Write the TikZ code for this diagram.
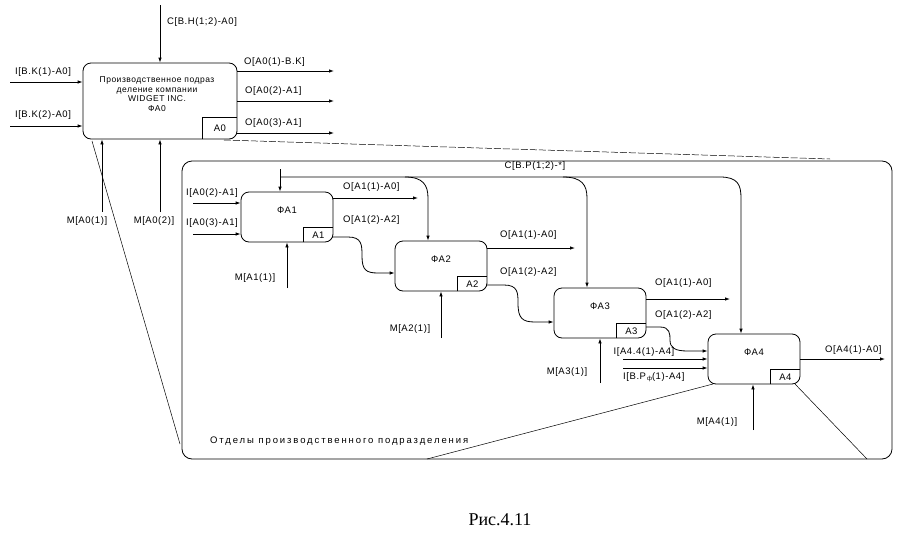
\documentclass[tikz,border=0pt]{standalone}
\usepackage{fontspec}
\setmainfont{Liberation Serif}
\newfontfamily\labfont[LetterSpace=6]{Liberation Sans}
\newfontfamily\widefont[LetterSpace=20]{Liberation Sans}
\usetikzlibrary{arrows.meta,calc}
\begin{document}
\begin{tikzpicture}[x=1pt,y=-1pt,
  lab/.style={font=\labfont\fontsize{9.5}{10}\selectfont, inner sep=0pt},
  fbox/.style={draw, rounded corners=8pt, line width=0.8pt, minimum width=92pt, minimum height=50pt, inner sep=0pt},
  arr/.style={line width=0.8pt, -{Latex[length=5pt,width=3.5pt]}},
  ln/.style={line width=0.8pt},
  thinline/.style={line width=0.5pt}]
\fill[white] (0,0) rectangle (897,541);
\useasboundingbox (0,0) rectangle (897,541);

% ---------- frame ----------
\node[draw, rounded corners=10pt, line width=0.8pt, minimum width=710pt, minimum height=298pt, inner sep=0pt] (F) at (537,310) {};
\node[lab, font=\widefont\fontsize{9.5}{10}\selectfont, anchor=west] (Ft) at (210,441) {Отделы производственного подразделения};

% ---------- A0 ----------
\node[fbox, minimum width=154pt, minimum height=76pt] (A0) at (160,101) {};
\node[lab, font=\labfont\fontsize{8.5}{9.5}\selectfont, align=center] (A0t) at (157,94) {Производственное подраз\\деление компании\\WIDGET INC.\\ФА0};
\draw[ln] ($(A0.south east)+(-35,0)$) |- ($(A0.south east)+(0,-22)$);
\node[lab] (A0n) at ($(A0.south east)+(-17.5,-11)$) {A0};

\coordinate (i01) at (10,82);
\coordinate (i02) at (10,126);
\draw[arr] (i01) -- (i01 -| A0.west);
\draw[arr] (i02) -- (i02 -| A0.west);
\node[lab] (li01) at (43,72) {I[B.K(1)-A0]};
\node[lab] (li02) at (43,115) {I[B.K(2)-A0]};

\coordinate (c0) at (160,5);
\draw[arr] (c0) -- (A0.north);
\node[lab, anchor=west] (lc0) at (167,22) {C[B.H(1;2)-A0]};

\coordinate (o01) at (334,71);
\coordinate (o02) at (334,101);
\coordinate (o03) at (334,133);
\draw[arr] (o01 -| A0.east) -- (o01);
\draw[arr] (o02 -| A0.east) -- (o02);
\draw[arr] (o03 -| A0.east) -- (o03);
\node[lab, anchor=west] (lo01) at (244,62) {O[A0(1)-B.K]};
\node[lab, anchor=west] (lo02) at (245,91) {O[A0(2)-A1]};
\node[lab, anchor=west] (lo03) at (245,123) {O[A0(3)-A1]};

\coordinate (m01) at (102,212);
\coordinate (m02) at (160,212);
\draw[arr] (m01) -- (m01 |- A0.south);
\draw[arr] (m02) -- (m02 |- A0.south);
\node[lab] (lm01) at (87,221) {M[A0(1)]};
\node[lab] (lm02) at (154,221) {M[A0(2)]};

% decomposition lines
\coordinate (d1a) at (92,141);
\coordinate (d1b) at (180,444);
\draw[thinline] (d1a) -- (d1b);
\coordinate (d2a) at (224,140);
\coordinate (d2b) at (830,159);
\draw[thinline, dash pattern=on 7pt off 2pt] (d2a) -- (d2b);

% ---------- A1..A4 ----------
\node[fbox] (A1) at (287,217) {};
\node[fbox] (A2) at (441,266) {};
\node[fbox] (A3) at (600,313) {};
\node[fbox] (A4) at (754,359) {};
\foreach \b in {1,2,3,4}{
  \draw[ln] ($(A\b.south east)+(-30,0)$) |- ($(A\b.south east)+(0,-15)$);
  \node[lab] (A\b n) at ($(A\b.south east)+(-15,-7.5)$) {A\b};
  \node[lab] (A\b t) at ($(A\b.north)+(0,19)$) {ФА\b};
}

% A1
\coordinate (i11) at (193,203);
\coordinate (i12) at (193,234);
\draw[arr] (i11) -- (i11 -| A1.west);
\draw[arr] (i12) -- (i12 -| A1.west);
\node[lab] (li11) at (212,193) {I[A0(2)-A1]};
\node[lab] (li12) at (212,223) {I[A0(3)-A1]};
\coordinate (o11) at (418,198);
\draw[arr] (o11 -| A1.east) -- (o11);
\node[lab, anchor=west] (lo11) at (343,187) {O[A1(1)-A0]};
\node[lab, anchor=west] (lo12) at (343,220) {O[A1(2)-A2]};
\coordinate (q1) at (332,237);
\coordinate (q1e) at (396,273);
\draw[arr] (q1) -- (348,237) .. controls (362,237) and (362,245) .. (362,256)
  .. controls (362,270) and (366,273) .. (378,273) -- (q1e -| A2.west);
\coordinate (m11) at (287,288);
\draw[arr] (m11) -- (m11 |- A1.south);
\node[lab] (lm11) at (255,278) {M[A1(1)]};

% control C[B.P(1;2)-*]
\coordinate (cs) at (280,169);
\coordinate (ch) at (280,177);
\draw[arr] (cs) -- (cs |- A1.north);
\coordinate (c2) at (428,198);
\coordinate (c3) at (587,198);
\coordinate (c4) at (741,198);
\draw[arr] (ch) -- (720,177) .. controls (738,177) and (741,185) .. (c4) -- (c4 |- A4.north);
\draw[arr] (405,177) .. controls (423,177) and (428,185) .. (c2) -- (c2 |- A2.north);
\draw[arr] (563,177) .. controls (582,177) and (587,185) .. (c3) -- (c3 |- A3.north);
\node[lab] (lc) at (535,166) {C[B.P(1;2)-*]};

% A2
\coordinate (o21) at (575,248);
\draw[arr] (o21 -| A2.east) -- (o21);
\node[lab, anchor=west] (lo21) at (500,235) {O[A1(1)-A0]};
\node[lab, anchor=west] (lo22) at (500,272) {O[A1(2)-A2]};
\coordinate (q2) at (486,285);
\coordinate (q2e) at (554,322);
\draw[arr] (q2) -- (504,285) .. controls (518,285) and (518,293) .. (518,303)
  .. controls (518,318) and (522,322) .. (535,322) -- (q2e -| A3.west);
\coordinate (m21) at (441,338);
\draw[arr] (m21) -- (m21 |- A2.south);
\node[lab] (lm21) at (410,329) {M[A2(1)]};

% A3
\coordinate (o31) at (730,299);
\draw[arr] (o31 -| A3.east) -- (o31);
\node[lab, anchor=west] (lo31) at (655,283) {O[A1(1)-A0]};
\node[lab, anchor=west] (lo32) at (655,315) {O[A1(2)-A2]};
\coordinate (q3) at (646,327);
\coordinate (q3e) at (708,351);
\draw[arr] (q3) -- (660,327) .. controls (670,327) and (670,334) .. (670,340)
  .. controls (670,348) and (675,351) .. (688,351) -- (q3e -| A4.west);
\coordinate (m31) at (600,383);
\draw[arr] (m31) -- (m31 |- A3.south);
\node[lab] (lm31) at (567,372) {M[A3(1)]};

% A4
\coordinate (i41) at (623,359);
\coordinate (i42) at (623,368);
\draw[arr] (i41) -- (i41 -| A4.west);
\draw[arr] (i42) -- (i42 -| A4.west);
\node[lab] (li41) at (644,352) {I[A4.4(1)-A4]};
\node[lab, anchor=west] (li42) at (623,377) {I[B.P\raisebox{-1pt}{\fontsize{6}{6}\selectfont\,ф}(1)-A4]};
\coordinate (o41) at (885,359);
\draw[arr] (o41 -| A4.east) -- (o41);
\node[lab, anchor=west] (lo41) at (825,350) {O[A4(1)-A0]};
\coordinate (m41) at (753,430);
\draw[arr] (m41) -- (m41 |- A4.south);
\node[lab] (lm41) at (717,422) {M[A4(1)]};

\coordinate (d3a) at (713,384);
\coordinate (d3b) at (427,459);
\coordinate (d4a) at (795,384);
\coordinate (d4b) at (867,459);
\draw[thinline] (d3a) -- (d3b);
\draw[thinline] (d4a) -- (d4b);

% caption
\node[font=\fontsize{18}{20}\selectfont, inner sep=0pt] (cap) at (500,520) {Рис.4.11};
\end{tikzpicture}
\end{document}
